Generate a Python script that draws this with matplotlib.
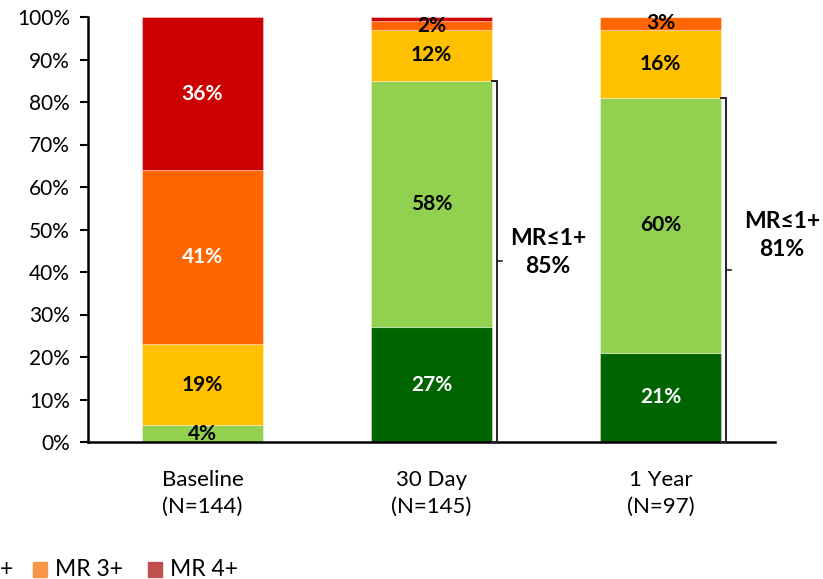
import matplotlib
matplotlib.use("Agg")
import matplotlib.pyplot as plt
from matplotlib.patches import Rectangle

plt.rcParams['font.family'] = ['Lato', 'DejaVu Sans']

# Data
categories = ["Baseline\n(N=144)", "30 Day\n(N=145)", "1 Year\n(N=97)"]
grades = ["MR 3+", "MR 4+"]
mr0 = [0, 27, 21]
mr1 = [4, 58, 60]
mr2 = [19, 12, 16]
mr3 = [41, 2, 3]
mr4 = [36, 1, 0]
series = [mr0, mr1, mr2, mr3, mr4]
bar_colors = ["#006400", "#92D050", "#FFC000", "#FF6600", "#CC0000"]
label_colors = ["white", "black", "black", "white", "white"]
legend_colors = ["#F79646", "#C0504D"]

# Which segment labels to show (index per bar, per grade)
show_label = [
    [False, True, True, True, True],
    [True, True, True, True, False],
    [True, True, True, True, False],
]
label_color_override = {(1, 3): "black", (2, 3): "black"}

# Brackets summarising MR <= 1+
bracket_bars = [1, 2]
bracket_text = ["MR\u22641+\n85%", "MR\u22641+\n81%"]
bracket_text_x = [1.509, 2.53]
bracket_text_y = [44.5, 48.5]

fig = plt.figure(figsize=(8.23, 5.79), dpi=100)
ax = fig.add_axes([88 / 823, 137 / 579, 687 / 823, 425 / 579])

x = list(range(len(categories)))
width = 0.525
bottoms = [0] * len(categories)
for gi, vals in enumerate(series):
    ax.bar(x, vals, width, bottom=bottoms, color=bar_colors[gi],
           edgecolor=(1, 1, 1, 0.35), linewidth=0.8, zorder=2)
    for bi, v in enumerate(vals):
        if show_label[bi][gi]:
            col = label_color_override.get((bi, gi), label_colors[gi])
            ax.text(bi, bottoms[bi] + v / 2, f"{v}%", ha="center", va="center",
                    fontsize=15, fontweight="bold", color=col, zorder=4)
    bottoms = [b + v for b, v in zip(bottoms, vals)]

# Brackets
for k, bi in enumerate(bracket_bars):
    top = mr0[bi] + mr1[bi]
    edge = bi + width / 2
    bx = edge + 0.022
    ax.plot([edge, bx, bx, edge], [top, top, 0, 0], color="#222222",
            lw=1.4, zorder=3, clip_on=False, solid_joinstyle="miter")
    ax.plot([bx, bx + 0.022], [top / 2, top / 2], color="#222222", lw=1.2,
            zorder=3, clip_on=False)
    ax.text(bracket_text_x[k], bracket_text_y[k], bracket_text[k],
            ha="center", va="center", fontsize=16.5, fontweight="bold",
            linespacing=1.4, color="black")

ax.set_xlim(-0.5, 2.5)
ax.set_ylim(0, 100)
ax.set_yticks(range(0, 101, 10))
ax.set_yticklabels([f"{t}%" for t in range(0, 101, 10)], fontsize=15)
ax.set_xticks(x)
ax.set_xticklabels(categories, fontsize=16, linespacing=1.45)
ax.tick_params(axis="x", length=0, pad=20)
ax.tick_params(axis="y", length=6, width=1.5, color="black", pad=7)
for s in ["top", "right"]:
    ax.spines[s].set_visible(False)
for s in ["left", "bottom"]:
    ax.spines[s].set_linewidth(1.8)
    ax.spines[s].set_color("black")

# Legend row along the bottom edge (earlier entries run off the left side)
ly = 579 - 570
fig.text(0, ly / 579, "+", ha="left", va="center", fontsize=16.5, color="black")
pitch = 115
start = 33
for i, (name, col) in enumerate(zip(grades, legend_colors)):
    x0 = start + i * pitch
    fig.add_artist(Rectangle((x0 / 823, (ly - 7) / 579), 14 / 823, 15 / 579,
                             transform=fig.transFigure, color=col))
    fig.text((x0 + 22) / 823, ly / 579, name, ha="left", va="center",
             fontsize=16.5, color="black")

fig.savefig("out.png", dpi=100)
